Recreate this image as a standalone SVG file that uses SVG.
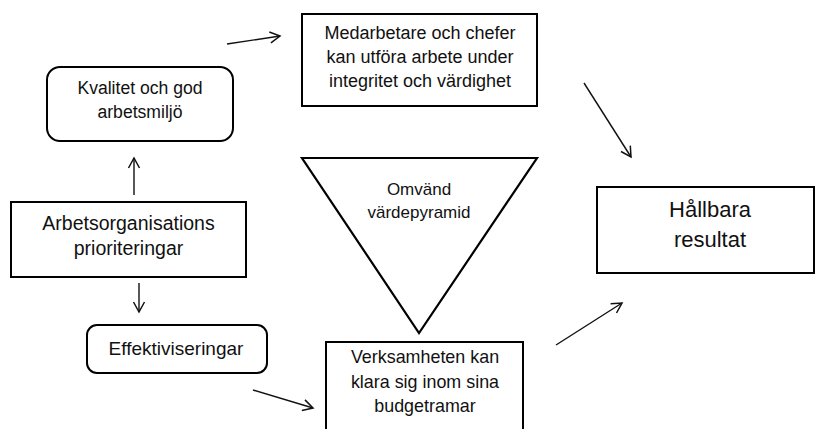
<svg xmlns="http://www.w3.org/2000/svg" width="815" height="429" viewBox="0 0 815 429">
<style>
.box{fill:#fff;stroke:#000;stroke-width:2}
.t{font-family:"Liberation Sans",Arial,sans-serif;fill:#111;text-anchor:middle}
.c line{stroke:#111;stroke-width:1.4;fill:none;marker-end:url(#ah)}
</style>
<defs>
<marker id="ah" markerUnits="userSpaceOnUse" markerWidth="14" markerHeight="14" viewBox="0 0 14 14" refX="12" refY="7" orient="auto">
<path d="M2,1.5 L12,7 L2,12.5" fill="none" stroke="#111" stroke-width="1.5"/>
</marker>
</defs>
<rect width="815" height="429" fill="#fff"/>
<g id="kvalitet">
<rect class="box" x="47" y="67" width="186" height="74" rx="13"/>
<text class="t" x="140" y="94" font-size="17.6">Kvalitet och god</text>
<text class="t" x="140" y="118" font-size="17.6">arbetsmiljö</text>
</g>
<g id="medarbetare">
<rect class="box" x="302" y="14" width="235" height="92"/>
<text class="t" x="420" y="39" font-size="18">Medarbetare och chefer</text>
<text class="t" x="420" y="63" font-size="18">kan utföra arbete under</text>
<text class="t" x="420" y="87" font-size="18">integritet och värdighet</text>
</g>
<g id="pyramid">
<polygon points="302,158 537,158 419,333" fill="#fff" stroke="#000" stroke-width="2.2" stroke-linejoin="miter"/>
<text class="t" x="419" y="195" font-size="17">Omvänd</text>
<text class="t" x="419" y="218" font-size="17">värdepyramid</text>
</g>
<g id="hallbara">
<rect class="box" x="597" y="187" width="217" height="86"/>
<text class="t" x="710" y="217" font-size="22">Hållbara</text>
<text class="t" x="710" y="247" font-size="22">resultat</text>
</g>
<g id="arbetsorg">
<rect class="box" x="11" y="202" width="235" height="75"/>
<text class="t" x="128.5" y="230" font-size="19.5">Arbetsorganisations</text>
<text class="t" x="128.5" y="255" font-size="19.5">prioriteringar</text>
</g>
<g id="effektiv">
<rect class="box" x="87" y="325" width="180" height="48" rx="10"/>
<text class="t" x="176" y="355" font-size="19">Effektiviseringar</text>
</g>
<g id="verksamheten">
<rect class="box" x="326" y="342" width="197" height="100"/>
<text class="t" x="425" y="363" font-size="17.9">Verksamheten kan</text>
<text class="t" x="425" y="388" font-size="17.9">klara sig inom sina</text>
<text class="t" x="425" y="412" font-size="17.9">budgetramar</text>
</g>
<g id="connectors" class="c">
<line x1="227" y1="44" x2="280" y2="36"/>
<line x1="584" y1="83" x2="631" y2="157"/>
<line x1="134" y1="195" x2="134" y2="158"/>
<line x1="139" y1="283" x2="139" y2="312"/>
<line x1="253" y1="390" x2="313" y2="408"/>
<line x1="556" y1="345" x2="622" y2="303"/>
</g>
</svg>
